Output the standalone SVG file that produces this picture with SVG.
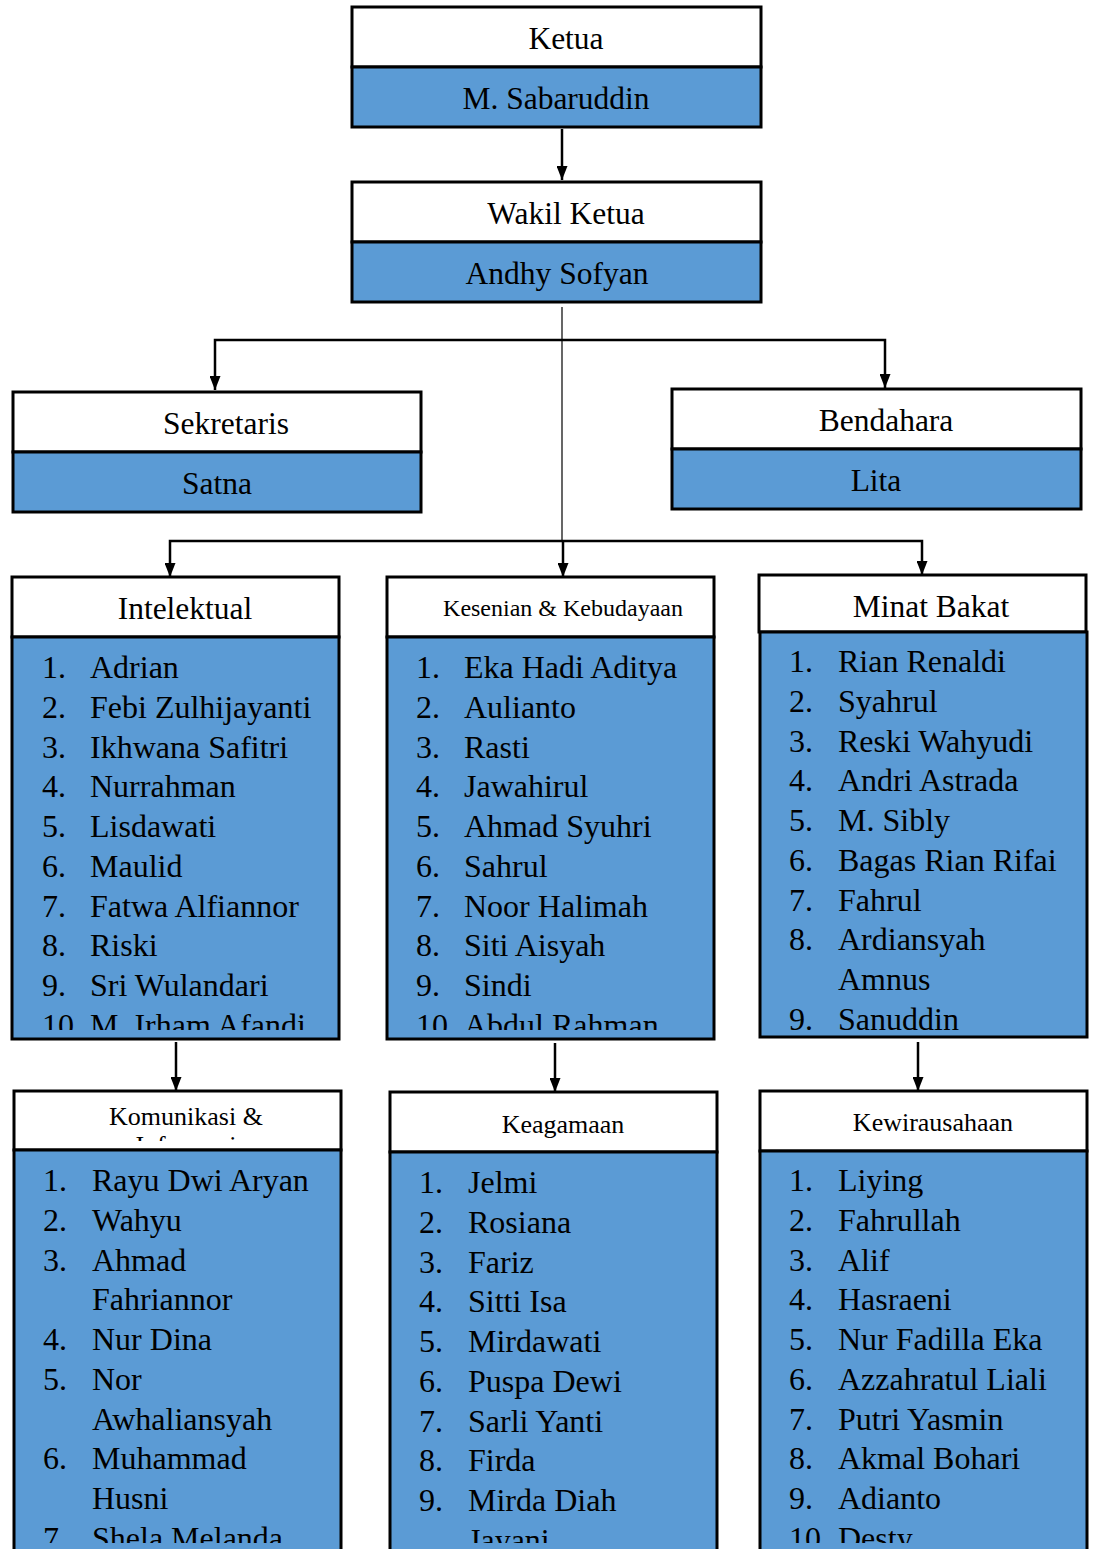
<svg xmlns="http://www.w3.org/2000/svg" width="1094" height="1549" viewBox="0 0 1094 1549">
<style>
.hd{fill:#ffffff;stroke:#000;stroke-width:3}
.bl{fill:#5B9BD5;stroke:#000;stroke-width:3}
text{font-family:"Liberation Serif","Times New Roman",serif;fill:#000}
.t{font-size:31.5px;text-anchor:middle}
.s{font-size:26px;text-anchor:middle}
.l{font-size:32px}
.c{fill:none;stroke:#000;stroke-width:2.5}
.thin{fill:none;stroke:#000;stroke-width:1.2}
</style>
<defs>
<marker id="ah" markerWidth="14" markerHeight="11" refX="14" refY="5.5" orient="auto-start-reverse" markerUnits="userSpaceOnUse" viewBox="0 0 14 11">
<path d="M0,0 L14,5.5 L0,11 Z" fill="#000"/>
</marker>
<clipPath id="cI"><rect x="12" y="637" width="327" height="393"/></clipPath>
<clipPath id="cK"><rect x="387" y="637" width="327" height="393"/></clipPath>
<clipPath id="cM"><rect x="759" y="632" width="328" height="398"/></clipPath>
<clipPath id="cKo"><rect x="14" y="1150" width="327" height="393"/></clipPath>
<clipPath id="cKoH"><rect x="14" y="1091" width="327" height="50"/></clipPath>
<clipPath id="cKe"><rect x="390" y="1152" width="327" height="391"/></clipPath>
<clipPath id="cKw"><rect x="760" y="1151" width="327" height="392"/></clipPath>
</defs>

<g id="connectors">
<path class="c" d="M562,129 V180" marker-end="url(#ah)"/>
<path class="thin" d="M562,307 V540"/>
<path class="c" d="M215,390 V340 H885 V388" marker-start="url(#ah)" marker-end="url(#ah)"/>
<path class="c" d="M170,577 V541 H922 V575" marker-start="url(#ah)" marker-end="url(#ah)"/>
<path class="c" d="M563,540 V577" marker-end="url(#ah)"/>
<path class="c" d="M176,1042 V1091" marker-end="url(#ah)"/>
<path class="c" d="M555,1043 V1092" marker-end="url(#ah)"/>
<path class="c" d="M918,1042 V1091" marker-end="url(#ah)"/>
</g>

<g id="ketua">
<rect class="hd" x="352" y="7" width="409" height="60"/>
<rect class="bl" x="352" y="67" width="409" height="60"/>
<text class="t" x="566" y="49">Ketua</text>
<text class="t" x="556" y="109">M. Sabaruddin</text>
</g>

<g id="wakil">
<rect class="hd" x="352" y="182" width="409" height="60"/>
<rect class="bl" x="352" y="242" width="409" height="60"/>
<text class="t" x="566" y="224">Wakil Ketua</text>
<text class="t" x="557" y="284">Andhy Sofyan</text>
</g>

<g id="sekretaris">
<rect class="hd" x="13" y="392" width="408" height="60"/>
<rect class="bl" x="13" y="452" width="408" height="60"/>
<text class="t" x="226" y="434">Sekretaris</text>
<text class="t" x="217" y="494">Satna</text>
</g>

<g id="bendahara">
<rect class="hd" x="672" y="389" width="409" height="60"/>
<rect class="bl" x="672" y="449" width="409" height="60"/>
<text class="t" x="886" y="431">Bendahara</text>
<text class="t" x="876" y="491">Lita</text>
</g>

<g id="intelektual">
<rect class="hd" x="12" y="577" width="327" height="60"/>
<rect class="bl" x="12" y="637" width="327" height="402"/>
<text class="t" x="185" y="619">Intelektual</text>
<g clip-path="url(#cI)">
<text class="l" y="678"><tspan x="42">1.</tspan><tspan x="90">Adrian</tspan></text>
<text class="l" y="717.75"><tspan x="42">2.</tspan><tspan x="90">Febi Zulhijayanti</tspan></text>
<text class="l" y="757.5"><tspan x="42">3.</tspan><tspan x="90">Ikhwana Safitri</tspan></text>
<text class="l" y="797.25"><tspan x="42">4.</tspan><tspan x="90">Nurrahman</tspan></text>
<text class="l" y="837"><tspan x="42">5.</tspan><tspan x="90">Lisdawati</tspan></text>
<text class="l" y="876.75"><tspan x="42">6.</tspan><tspan x="90">Maulid</tspan></text>
<text class="l" y="916.5"><tspan x="42">7.</tspan><tspan x="90">Fatwa Alfiannor</tspan></text>
<text class="l" y="956.25"><tspan x="42">8.</tspan><tspan x="90">Riski</tspan></text>
<text class="l" y="996"><tspan x="42">9.</tspan><tspan x="90">Sri Wulandari</tspan></text>
<text class="l" y="1035.75"><tspan x="42">10.</tspan><tspan x="90">M. Irham Afandi</tspan></text>
</g>
</g>

<g id="kesenian">
<rect class="hd" x="387" y="577" width="327" height="60"/>
<rect class="bl" x="387" y="637" width="327" height="402"/>
<text x="563" y="616" style="font-size:24px;text-anchor:middle">Kesenian &amp; Kebudayaan</text>
<g clip-path="url(#cK)">
<text class="l" y="678"><tspan x="416">1.</tspan><tspan x="464">Eka Hadi Aditya</tspan></text>
<text class="l" y="717.75"><tspan x="416">2.</tspan><tspan x="464">Aulianto</tspan></text>
<text class="l" y="757.5"><tspan x="416">3.</tspan><tspan x="464">Rasti</tspan></text>
<text class="l" y="797.25"><tspan x="416">4.</tspan><tspan x="464">Jawahirul</tspan></text>
<text class="l" y="837"><tspan x="416">5.</tspan><tspan x="464">Ahmad Syuhri</tspan></text>
<text class="l" y="876.75"><tspan x="416">6.</tspan><tspan x="464">Sahrul</tspan></text>
<text class="l" y="916.5"><tspan x="416">7.</tspan><tspan x="464">Noor Halimah</tspan></text>
<text class="l" y="956.25"><tspan x="416">8.</tspan><tspan x="464">Siti Aisyah</tspan></text>
<text class="l" y="996"><tspan x="416">9.</tspan><tspan x="464">Sindi</tspan></text>
<text class="l" y="1035.75"><tspan x="416">10.</tspan><tspan x="464">Abdul Rahman</tspan></text>
</g>
</g>

<g id="minat">
<rect class="hd" x="759" y="575" width="327" height="57"/>
<rect class="bl" x="760" y="632" width="327" height="405"/>
<text class="t" x="931" y="617">Minat Bakat</text>
<g clip-path="url(#cM)">
<text class="l" y="672"><tspan x="789">1.</tspan><tspan x="838">Rian Renaldi</tspan></text>
<text class="l" y="711.75"><tspan x="789">2.</tspan><tspan x="838">Syahrul</tspan></text>
<text class="l" y="751.5"><tspan x="789">3.</tspan><tspan x="838">Reski Wahyudi</tspan></text>
<text class="l" y="791.25"><tspan x="789">4.</tspan><tspan x="838">Andri Astrada</tspan></text>
<text class="l" y="831"><tspan x="789">5.</tspan><tspan x="838">M. Sibly</tspan></text>
<text class="l" y="870.75"><tspan x="789">6.</tspan><tspan x="838">Bagas Rian Rifai</tspan></text>
<text class="l" y="910.5"><tspan x="789">7.</tspan><tspan x="838">Fahrul</tspan></text>
<text class="l" y="950.25"><tspan x="789">8.</tspan><tspan x="838">Ardiansyah</tspan></text>
<text class="l" y="990" x="838">Amnus</text>
<text class="l" y="1029.75"><tspan x="789">9.</tspan><tspan x="838">Sanuddin</tspan></text>
</g>
</g>

<g id="komunikasi">
<rect class="hd" x="14" y="1091" width="327" height="59"/>
<rect class="bl" x="14" y="1150" width="327" height="410"/>
<g clip-path="url(#cKoH)">
<text class="s" x="186" y="1125">Komunikasi &amp;</text>
<text class="s" x="186" y="1154">Informasi</text>
</g>
<g clip-path="url(#cKo)">
<text class="l" y="1191"><tspan x="43">1.</tspan><tspan x="92">Rayu Dwi Aryan</tspan></text>
<text class="l" y="1230.75"><tspan x="43">2.</tspan><tspan x="92">Wahyu</tspan></text>
<text class="l" y="1270.5"><tspan x="43">3.</tspan><tspan x="92">Ahmad</tspan></text>
<text class="l" y="1310.25" x="92">Fahriannor</text>
<text class="l" y="1350"><tspan x="43">4.</tspan><tspan x="92">Nur Dina</tspan></text>
<text class="l" y="1389.75"><tspan x="43">5.</tspan><tspan x="92">Nor</tspan></text>
<text class="l" y="1429.5" x="92">Awhaliansyah</text>
<text class="l" y="1469.25"><tspan x="43">6.</tspan><tspan x="92">Muhammad</tspan></text>
<text class="l" y="1509" x="92">Husni</text>
<text class="l" y="1548.75"><tspan x="43">7.</tspan><tspan x="92">Shela Melanda</tspan></text>
</g>
</g>

<g id="keagamaan">
<rect class="hd" x="390" y="1092" width="327" height="60"/>
<rect class="bl" x="390" y="1152" width="327" height="410"/>
<text class="s" x="563" y="1133">Keagamaan</text>
<g clip-path="url(#cKe)">
<text class="l" y="1193"><tspan x="419">1.</tspan><tspan x="468">Jelmi</tspan></text>
<text class="l" y="1232.75"><tspan x="419">2.</tspan><tspan x="468">Rosiana</tspan></text>
<text class="l" y="1272.5"><tspan x="419">3.</tspan><tspan x="468">Fariz</tspan></text>
<text class="l" y="1312.25"><tspan x="419">4.</tspan><tspan x="468">Sitti Isa</tspan></text>
<text class="l" y="1352"><tspan x="419">5.</tspan><tspan x="468">Mirdawati</tspan></text>
<text class="l" y="1391.75"><tspan x="419">6.</tspan><tspan x="468">Puspa Dewi</tspan></text>
<text class="l" y="1431.5"><tspan x="419">7.</tspan><tspan x="468">Sarli Yanti</tspan></text>
<text class="l" y="1471.25"><tspan x="419">8.</tspan><tspan x="468">Firda</tspan></text>
<text class="l" y="1511"><tspan x="419">9.</tspan><tspan x="468">Mirda Diah</tspan></text>
<text class="l" y="1550.75" x="468">Jayani</text>
</g>
</g>

<g id="kewirausahaan">
<rect class="hd" x="760" y="1091" width="327" height="60"/>
<rect class="bl" x="760" y="1151" width="327" height="410"/>
<text class="s" x="933" y="1131">Kewirausahaan</text>
<g clip-path="url(#cKw)">
<text class="l" y="1191"><tspan x="789">1.</tspan><tspan x="838">Liying</tspan></text>
<text class="l" y="1230.75"><tspan x="789">2.</tspan><tspan x="838">Fahrullah</tspan></text>
<text class="l" y="1270.5"><tspan x="789">3.</tspan><tspan x="838">Alif</tspan></text>
<text class="l" y="1310.25"><tspan x="789">4.</tspan><tspan x="838">Hasraeni</tspan></text>
<text class="l" y="1350"><tspan x="789">5.</tspan><tspan x="838">Nur Fadilla Eka</tspan></text>
<text class="l" y="1389.75"><tspan x="789">6.</tspan><tspan x="838">Azzahratul Liali</tspan></text>
<text class="l" y="1429.5"><tspan x="789">7.</tspan><tspan x="838">Putri Yasmin</tspan></text>
<text class="l" y="1469.25"><tspan x="789">8.</tspan><tspan x="838">Akmal Bohari</tspan></text>
<text class="l" y="1509"><tspan x="789">9.</tspan><tspan x="838">Adianto</tspan></text>
<text class="l" y="1548.75"><tspan x="789">10.</tspan><tspan x="838">Desty</tspan></text>
</g>
</g>
</svg>
